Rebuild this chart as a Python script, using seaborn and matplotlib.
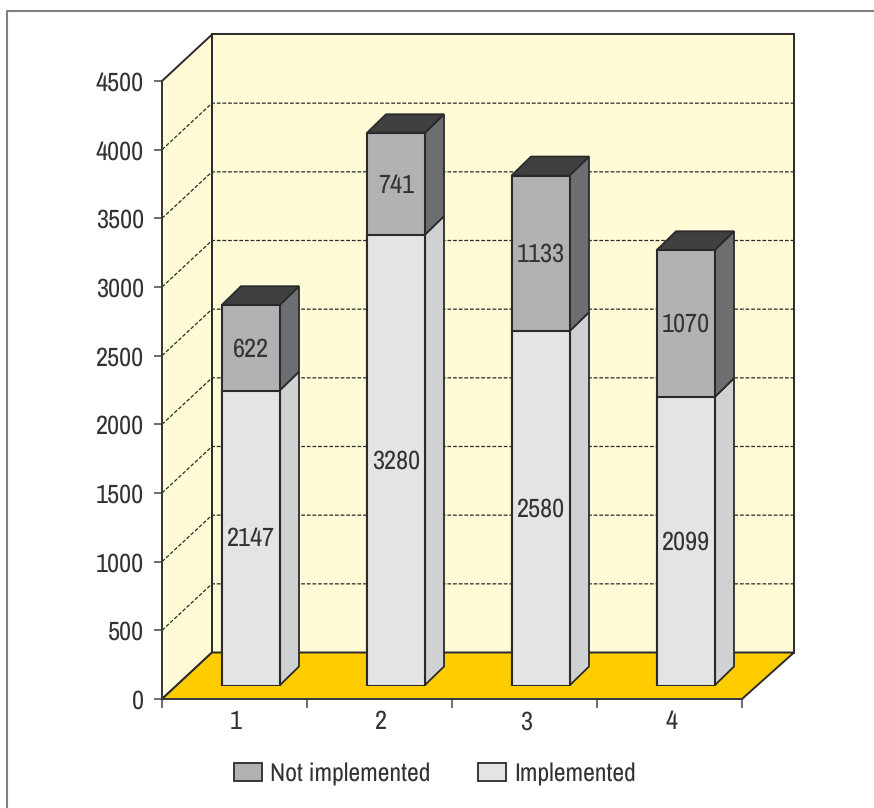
import numpy as np
import pandas as pd
import matplotlib
matplotlib.use("Agg")
import matplotlib.pyplot as plt
from matplotlib.lines import Line2D
from matplotlib.patches import Polygon, Patch
from matplotlib.transforms import ScaledTranslation
import seaborn as sns

# Counts per group
groups = ["1", "2", "3", "4"]
implemented = [2147, 3280, 2580, 2099]
not_implemented = [622, 741, 1133, 1070]
y_ticks = [0, 500, 1000, 1500, 2000, 2500, 3000, 3500, 4000, 4500]

INK = "#2a2a2a"
TEXT = "#333333"
WALL = "#FFFBD6"
FLOOR = "#FFCC00"
IMPL_FRONT, IMPL_SIDE = "#E3E4E6", "#D0D1D3"
NOT_FRONT, NOT_SIDE = "#B1B2B4", "#6C6E71"
TOP = "#404040"

W, H = 874, 808
sns.set_theme(style="white")
plt.rcParams["font.family"] = ["Archivo Narrow", "Liberation Sans", "DejaVu Sans"]
plt.rcParams["text.hinting"] = "no_hinting"
plt.rcParams["text.hinting_factor"] = 1
FS = 19

fig = plt.figure(figsize=(W / 100, H / 100), dpi=100, facecolor="white")


def box(x0, y_top, x1, y_bottom):
    return [x0 / W, 1 - y_bottom / H, (x1 - x0) / W, (y_bottom - y_top) / H]


# Open frame: top and left rules running off the page
fig.add_artist(Line2D([6.5 / W, 6.5 / W, 1], [0, 1 - 11 / H, 1 - 11 / H],
                      transform=fig.transFigure, color="#808080", linewidth=1.5))

# Plot box of the front plane
ax = fig.add_axes(box(162, 81, 742, 699))
ax.set_xlim(-0.5, 3.5)
ax.set_ylim(0, 4500)
ax.patch.set_alpha(0)
for s in ax.spines.values():
    s.set_visible(False)

px_x = 4 / 580          # one pixel in category units
px_y = 4500 / 618       # one pixel in value units
wall_dx, wall_dy = 50 * px_x, 46.5 * px_y
xl, xr = -0.5, 3.5
back_r = xr + 52 * px_x

ax.add_patch(Polygon([(xl, 0), (xl, 4500), (xl + wall_dx, 4500 + wall_dy), (xl + wall_dx, wall_dy)],
                     closed=True, facecolor=WALL, edgecolor=INK, linewidth=1.4, clip_on=False, zorder=1))
ax.add_patch(Polygon([(xl + wall_dx, wall_dy), (xl + wall_dx, 4500 + wall_dy),
                      (back_r, 4500 + wall_dy), (back_r, wall_dy)],
                     closed=True, facecolor=WALL, edgecolor=INK, linewidth=1.4, clip_on=False, zorder=1))
ax.add_patch(Polygon([(xl, 0), (xr, 0), (back_r, wall_dy), (xl + wall_dx, wall_dy)],
                     closed=True, facecolor=FLOOR, edgecolor=INK, linewidth=1.4, clip_on=False, zorder=2))

# Grid lines across both walls
for v in y_ticks[1:-1]:
    ax.plot([xl, xl + wall_dx, back_r], [v, v + wall_dy, v + wall_dy],
            color=INK, linewidth=0.9, linestyle=(0, (3, 1.5)), clip_on=False, zorder=1.5)

ax.set_xticks([-0.5, 0.5, 1.5, 2.5, 3.5])
ax.set_xticklabels([])
ax.set_xticks([0, 1, 2, 3], labels=groups, minor=True)
ax.set_yticks(y_ticks)
ax.tick_params(axis="y", which="major", length=5.6, width=1.2, color="#555555",
               labelsize=FS, labelcolor=TEXT, left=True, pad=7.5)
ax.tick_params(axis="x", which="major", length=6.5, width=1.2, color="#555555", bottom=True)
ax.tick_params(axis="x", which="minor", length=0, pad=8, labelsize=FS, labelcolor=TEXT, bottom=False)
nudge = ScaledTranslation(1.5 / 100, 0, fig.dpi_scale_trans)
for lab in ax.get_xticklabels(minor=True):
    lab.set_transform(lab.get_transform() + nudge)
for s in ("left", "bottom"):
    ax.spines[s].set_visible(True)
    ax.spines[s].set_color("#3a3a3a")
    ax.spines[s].set_linewidth(1.4)
    ax.spines[s].set_zorder(3)

# Bars stand on the floor, set in from the front edge
ax_bars = fig.add_axes(box(162 + 16, 81 - 13.5, 742 + 16, 699 - 13.5))

df = pd.DataFrame({"group": groups,
                   "Implemented": implemented,
                   "Not implemented": not_implemented})
df["total"] = df["Implemented"] + df["Not implemented"]

BAR_W = 0.4
EDGE = 1.5
sns.barplot(data=df, x="group", y="total", order=groups, ax=ax_bars, width=BAR_W,
            color=NOT_FRONT, saturation=1, edgecolor=INK, linewidth=EDGE, zorder=4)
sns.barplot(data=df, x="group", y="Implemented", order=groups, ax=ax_bars, width=BAR_W,
            color=IMPL_FRONT, saturation=1, edgecolor=INK, linewidth=EDGE, zorder=5)
ax_bars.set_xlim(-0.5, 3.5)
ax_bars.set_ylim(0, 4500)
ax_bars.set_axis_off()

dx, dy = 19.5 * px_x, 19 * px_y
for i, (a, b) in enumerate(zip(implemented, not_implemented)):
    right = i + BAR_W / 2
    left = i - BAR_W / 2
    total = a + b
    for lo, hi, col in ((0, a, IMPL_SIDE), (a, total, NOT_SIDE)):
        ax_bars.add_patch(Polygon([(right, lo), (right + dx, lo + dy), (right + dx, hi + dy), (right, hi)],
                                  closed=True, facecolor=col, edgecolor=INK, linewidth=1.3,
                                  clip_on=False, zorder=3.5))
    ax_bars.add_patch(Polygon([(left, total), (right, total), (right + dx, total + dy), (left + dx, total + dy)],
                              closed=True, facecolor=TOP, edgecolor=INK, linewidth=1.3,
                              clip_on=False, zorder=3.5))
    for value, mid in ((a, a / 2), (b, a + b / 2)):
        ax_bars.annotate(str(value), (i, mid), xytext=(0.3, -0.8), textcoords="offset points",
                         ha="center", va="center", fontsize=FS, color=TEXT, zorder=6)

fig.legend(handles=[Patch(facecolor=NOT_FRONT, edgecolor=INK, linewidth=1.3, label="Not implemented"),
                    Patch(facecolor=IMPL_FRONT, edgecolor=INK, linewidth=1.3, label="Implemented")],
           loc="center", bbox_to_anchor=(435 / W, 1 - 774 / H), ncols=2, frameon=False,
           fontsize=18.5, labelcolor=TEXT, handlelength=1.08, handleheight=0.7,
           handletextpad=0.31, columnspacing=1.87, borderpad=0, borderaxespad=0)

fig.savefig("out.png", dpi=100)
